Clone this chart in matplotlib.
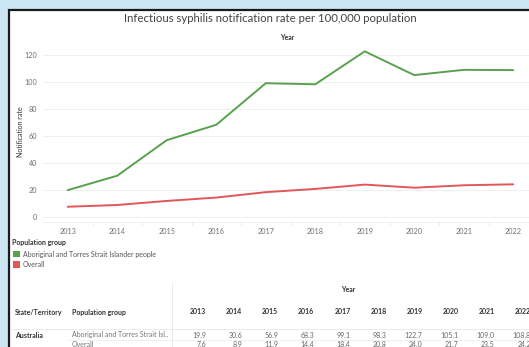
import matplotlib
matplotlib.use("Agg")
import matplotlib.pyplot as plt
from matplotlib.patches import Rectangle
from matplotlib.lines import Line2D

years = [2013, 2014, 2015, 2016, 2017, 2018, 2019, 2020, 2021, 2022]
aboriginal = [19.9, 30.6, 56.9, 68.3, 99.1, 98.3, 122.7, 105.1, 109.0, 108.8]
overall = [7.6, 8.9, 11.9, 14.4, 18.4, 20.8, 24.0, 21.7, 23.5, 24.2]
groups = ["Aboriginal and Torres Strait Islander people", "Overall"]
group_colors = ["#59a14f", "#e15759"]
table_groups = ["Aboriginal and Torres Strait Isl..", "Overall"]
y_ticks = [0, 20, 40, 60, 80, 100, 120]

W, H = 529, 347
FS = 5.0
plt.rcParams["font.family"] = ["Lato", "DejaVu Sans"]


def fx(x):
    return x / W


def fy(y):
    return 1 - y / H


fig = plt.figure(figsize=(W / 100, H / 100), dpi=100)
fig.patch.set_facecolor("#cde6f4")

# white dashboard panel with black border on left/top
fig.patches.append(Rectangle((fx(9), fy(H + 5)), fx(W + 10), fy(10) - fy(H + 5),
                             transform=fig.transFigure, facecolor="white",
                             edgecolor="#1a1a1a", linewidth=1.6, zorder=-5))

# main chart
ax = fig.add_axes([fx(43), fy(222), fx(538) - fx(43), fy(45) - fy(222)])
ax.patch.set_alpha(0)
ax.plot(years, aboriginal, color=group_colors[0], linewidth=1.4, solid_capstyle="round")
ax.plot(years, overall, color=group_colors[1], linewidth=1.4, solid_capstyle="round")
ax.set_xlim(2012.5, 2022.5)
ax.set_ylim(-3.7, 127.4)
ax.set_yticks(y_ticks)
ax.set_xticks(years)
ax.set_xticks([y + 0.5 for y in years[:-1]], minor=True)
ax.grid(axis="y", color="#ececec", linewidth=0.6)
ax.set_axisbelow(True)
for s in ["top", "right", "left"]:
    ax.spines[s].set_visible(False)
ax.spines["bottom"].set_color("#eeeeee")
ax.spines["bottom"].set_linewidth(0.6)
ax.tick_params(axis="both", which="major", length=0, labelsize=5.2, labelcolor="#707070", pad=4)
ax.tick_params(axis="x", which="minor", length=2.5, color="#e4e4e4", width=0.6)
ax.set_ylabel("Notification rate", fontsize=FS, color="#333333")
ax.yaxis.set_label_coords((24 - 43) / (538 - 43), (222 - 132) / (222 - 45))

fig.text(fx(270), fy(19), "Infectious syphilis notification rate per 100,000 population",
         ha="center", va="center", fontsize=8.2, color="#444444")
fig.text(fx(287), fy(37), "Year", ha="center", va="center", fontsize=FS,
         color="#333333", fontweight="bold")

# legend
fig.text(fx(12), fy(243), "Population group", ha="left", va="center", fontsize=FS,
         color="#333333", fontweight="bold")
for i, (g, c) in enumerate(zip(groups, group_colors)):
    yc = 254 + i * 10.5
    fig.patches.append(Rectangle((fx(13), fy(yc + 3.3)), fx(6.5), fy(0) - fy(6.5),
                                 transform=fig.transFigure, facecolor=c, edgecolor="none"))
    fig.text(fx(23), fy(yc), g, ha="left", va="center", fontsize=FS, color="#555555")

# table
fig.lines.append(Line2D([fx(172), fx(172)], [fy(283), fy(H)], transform=fig.transFigure,
                        color="#e6e6e6", linewidth=0.6))
fig.lines.append(Line2D([fx(12), fx(W)], [fy(329), fy(329)], transform=fig.transFigure,
                        color="#e6e6e6", linewidth=0.6))
fig.lines.append(Line2D([fx(68), fx(W)], [fy(339.5), fy(339.5)], transform=fig.transFigure,
                        color="#eeeeee", linewidth=0.6))
fig.text(fx(348), fy(289), "Year", ha="center", va="center", fontsize=FS,
         color="#333333", fontweight="bold")
fig.text(fx(15), fy(312), "State/Territory", ha="left", va="center", fontsize=FS,
         color="#333333", fontweight="bold")
fig.text(fx(72), fy(312), "Population group", ha="left", va="center", fontsize=FS,
         color="#333333", fontweight="bold")
fig.text(fx(15), fy(335), "Australia", ha="left", va="center", fontsize=FS,
         color="#333333", fontweight="bold")
col_step = 36.1
for j, yr in enumerate(years):
    xr = 206 + col_step * j
    fig.text(fx(xr), fy(312), str(yr), ha="right", va="center", fontsize=FS,
             color="#333333", fontweight="bold")
for i, (g, vals) in enumerate(zip(table_groups, [aboriginal, overall])):
    yr_ = 335 + i * 9.5
    fig.text(fx(72), fy(yr_), g, ha="left", va="center", fontsize=FS, color="#777777")
    for j, v in enumerate(vals):
        xr = 206 + col_step * j
        fig.text(fx(xr), fy(yr_), f"{v:.1f}", ha="right", va="center", fontsize=FS,
                 color="#666666")

fig.savefig("out.png", dpi=100, facecolor=fig.get_facecolor())
